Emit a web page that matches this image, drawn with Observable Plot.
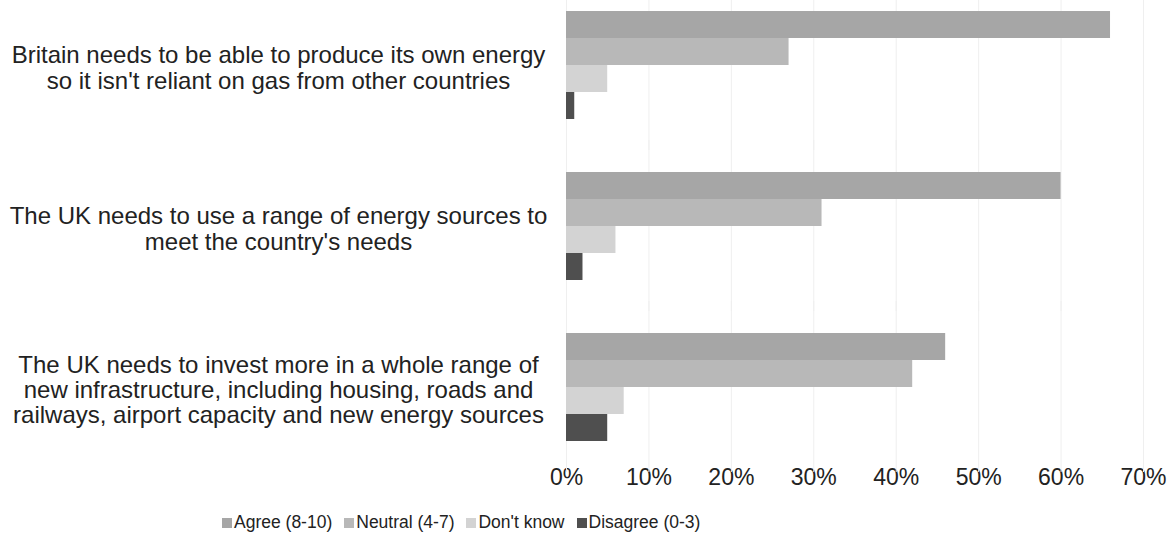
<!DOCTYPE html>
<html>
<head>
<meta charset="utf-8">
<script src="https://cdn.jsdelivr.net/npm/d3@7"></script>
<script src="https://cdn.jsdelivr.net/npm/@observablehq/plot@0.6"></script>
<style>
  html, body { margin: 0; padding: 0; background: #fff; }
  body { position: relative; width: 1172px; height: 560px; overflow: hidden; font-family: "Liberation Sans", Arial, sans-serif; color: #222; }
  #legend { position: absolute; left: 222px; top: 512px; display: flex; align-items: center; font-size: 17.5px; color: #222; }
  #legend .item { display: flex; align-items: center; margin-right: 12px; }
  #legend .sw { width: 10px; height: 10px; margin-right: 2px; }
</style>
</head>
<body>
<div id="chart"></div>
<div id="legend"></div>
<script>
const categories = [
  "Britain needs to be able to produce its own energy\nso it isn't reliant on gas from other countries",
  "The UK needs to use a range of energy sources to\nmeet the country's needs",
  "The UK needs to invest more in a whole range of\nnew infrastructure, including housing, roads and\nrailways, airport capacity and new energy sources"
];
const series = ["Agree (8-10)", "Neutral (4-7)", "Don't know", "Disagree (0-3)"];
const agree = [66, 60, 46];
const neutral = [27, 31, 42];
const dontKnow = [5, 6, 7];
const disagree = [1, 2, 5];
const seriesColors = ["#a6a6a6", "#b8b8b8", "#d3d3d3", "#4f4f4f"];
const xTicks = [0, 10, 20, 30, 40, 50, 60, 70];

const valuesBySeries = [agree, neutral, dontKnow, disagree];
const rows = [];
categories.forEach((c, i) => {
  series.forEach((s, j) => rows.push({category: c, series: s, value: valuesBySeries[j][i]}));
});

const plot = Plot.plot({
  width: 1172,
  height: 500,
  marginLeft: 566,
  marginRight: 29,
  marginTop: 0,
  marginBottom: 48,
  style: {fontFamily: "'Liberation Sans', Arial, sans-serif", fontSize: "23px", color: "#222", background: "#fff"},
  x: {domain: [0, 70], ticks: xTicks, tickFormat: d => d + "%", tickSize: 0, tickPadding: 26, label: null},
  y: {domain: series, axis: null, padding: 0},
  fy: {domain: categories, axis: null, paddingInner: 0.309, paddingOuter: 0.05},
  color: {domain: series, range: seriesColors},
  marks: [
    Plot.ruleX(xTicks, {x: d => d, stroke: "#efefef", strokeWidth: 1, insetTop: -30, insetBottom: -30}),
    Plot.barX(rows, {x: "value", y: "series", fy: "category", fill: "series"}),
    Plot.text(categories, {fy: d => d, text: d => d, frameAnchor: "left", dx: -288, dy: 3, textAnchor: "middle", lineHeight: 1.05, fontSize: 24, fill: "#222"})
  ]
});
document.getElementById("chart").appendChild(plot);

const color = plot.scale("color");
const legend = document.getElementById("legend");
series.forEach((s, j) => {
  const item = document.createElement("div");
  item.className = "item";
  const sw = document.createElement("span");
  sw.className = "sw";
  sw.style.background = color.range[j];
  const t = document.createElement("span");
  t.textContent = s;
  item.appendChild(sw);
  item.appendChild(t);
  legend.appendChild(item);
});
</script>
</body>
</html>
